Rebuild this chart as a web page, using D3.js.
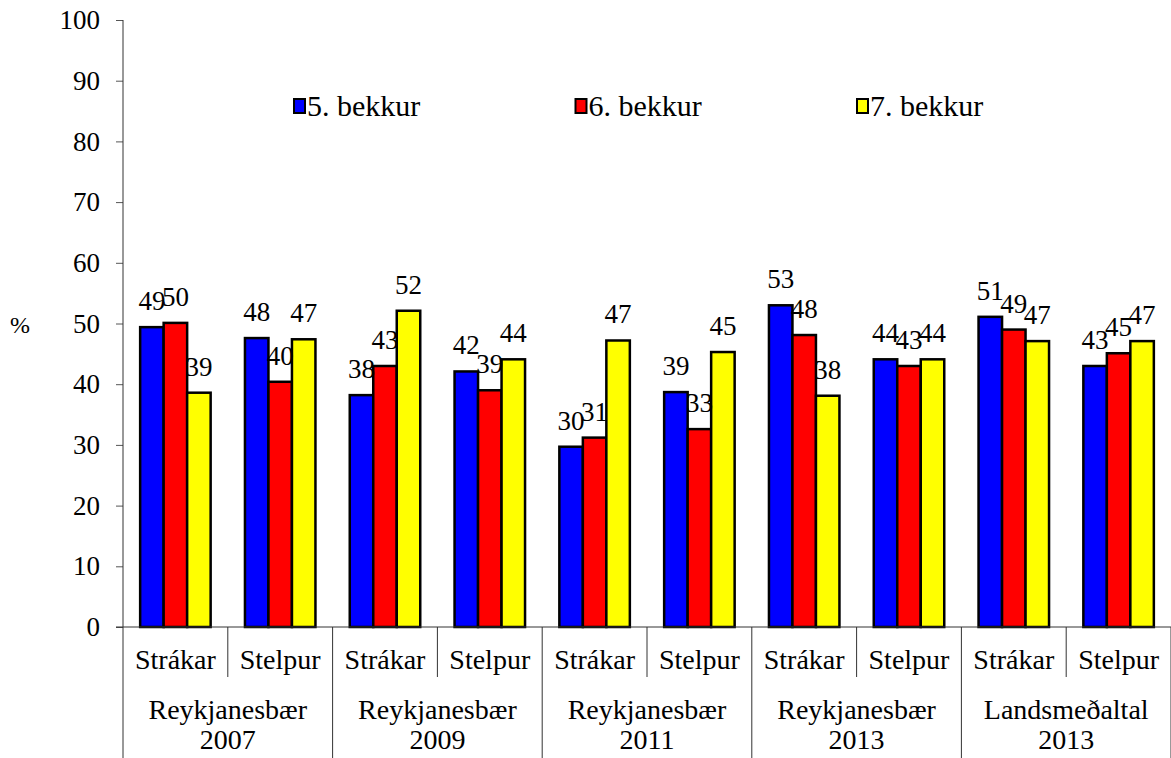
<!DOCTYPE html>
<html>
<head>
<meta charset="utf-8">
<script src="https://cdn.jsdelivr.net/npm/d3@7"></script>
<style>
    body { margin: 0; background: #fff; }
    text { font-family: "Liberation Serif", "Times New Roman", serif; fill: #000; }
</style>
</head>
<body>
<div id="chart"></div>
<script>
// Categories
var categories = ["Strákar", "Stelpur", "Strákar", "Stelpur", "Strákar", "Stelpur", "Strákar", "Stelpur", "Strákar", "Stelpur"];
var groupNames = [["Reykjanesbær", "2007"], ["Reykjanesbær", "2009"], ["Reykjanesbær", "2011"], ["Reykjanesbær", "2013"], ["Landsmeðaltal", "2013"]];

// Series
var seriesNames = ["5. bekkur", "6. bekkur", "7. bekkur"];
var seriesColors = ["#0000ff", "#ff0000", "#ffff00"];
var grade5 = [49.4, 47.6, 38.2, 42.1, 29.7, 38.7, 53.0, 44.1, 51.1, 43.0];
var grade6 = [50.1, 40.4, 43.0, 39.0, 31.2, 32.6, 48.1, 43.0, 49.0, 45.1];
var grade7 = [38.6, 47.4, 52.1, 44.1, 47.2, 45.3, 38.1, 44.1, 47.1, 47.1];

// Y ticks
var yTicks = [0, 10, 20, 30, 40, 50, 60, 70, 80, 90, 100];

var width = 1171, height = 758;
var plotLeft = 123, plotRight = 1171, plotTop = 20, plotBottom = 627;

var svg = d3.select("#chart")
    .append("svg")
    .attr("width", width)
    .attr("height", height);

var x = d3.scaleBand()
    .domain(d3.range(categories.length))
    .range([plotLeft, plotRight])
    .padding(0);

var inner = d3.scaleBand()
    .domain(d3.range(seriesNames.length))
    .range([0, x.bandwidth()])
    .paddingInner(0)
    .paddingOuter(0.73);

var y = d3.scaleLinear()
    .domain([0, 100])
    .range([plotBottom, plotTop]);

// y axis
var yAxis = svg.append("g")
    .attr("transform", "translate(" + plotLeft + ",0)")
    .call(d3.axisLeft(y).tickValues(yTicks).tickSize(7).tickPadding(16).tickFormat(d3.format("d")));
yAxis.select(".domain").remove();
yAxis.selectAll(".tick line").attr("stroke", "#555");
yAxis.selectAll(".tick text")
    .style("font-family", "Liberation Serif")
    .style("font-size", "27px")
    .attr("fill", "#000");

svg.append("line")
    .attr("x1", plotLeft).attr("x2", plotLeft)
    .attr("y1", plotTop).attr("y2", height)
    .attr("stroke", "#333");

svg.append("text")
    .attr("x", 20)
    .attr("y", 333)
    .attr("text-anchor", "middle")
    .style("font-size", "24px")
    .text("%");

// bars
var series = [grade5, grade6, grade7];
series.forEach(function(values, s) {
    svg.append("g")
        .selectAll("rect")
        .data(values)
        .enter()
        .append("rect")
        .attr("x", function(d, i) { return x(i) + inner(s); })
        .attr("y", function(d) { return y(d); })
        .attr("width", inner.bandwidth())
        .attr("height", function(d) { return y(0) - y(d); })
        .attr("fill", seriesColors[s])
        .attr("stroke", "#000")
        .attr("stroke-width", 2.5);
});

// value labels
series.forEach(function(values, s) {
    svg.append("g")
        .selectAll("text")
        .data(values)
        .enter()
        .append("text")
        .attr("x", function(d, i) { return x(i) + inner(s) + inner.bandwidth() / 2; })
        .attr("y", function(d) { return y(d) - 17; })
        .attr("text-anchor", "middle")
        .style("font-size", "27px")
        .text(function(d) { return Math.round(d); });
});

// x axis line
svg.append("line")
    .attr("x1", plotLeft - 7).attr("x2", plotRight)
    .attr("y1", plotBottom).attr("y2", plotBottom)
    .attr("stroke", "#333");

// category separators
d3.range(1, categories.length + 1).forEach(function(i) {
    var xx = i < categories.length ? x(i) : plotRight;
    svg.append("line")
        .attr("x1", xx).attr("x2", xx)
        .attr("y1", plotBottom)
        .attr("y2", i % 2 == 0 ? height : 677)
        .attr("stroke", "#333");
});

svg.append("g")
    .selectAll("text")
    .data(categories)
    .enter()
    .append("text")
    .attr("x", function(d, i) { return x(i) + x.bandwidth() / 2; })
    .attr("y", 669)
    .attr("text-anchor", "middle")
    .style("font-size", "28px")
    .text(function(d) { return d; });

// group labels
var groupText = svg.append("g")
    .selectAll("text")
    .data(groupNames)
    .enter()
    .append("text")
    .attr("text-anchor", "middle")
    .style("font-size", "28px");
groupText.append("tspan")
    .attr("x", function(d, i) { return x(i * 2) + x.bandwidth(); })
    .attr("y", 719)
    .text(function(d) { return d[0]; });
groupText.append("tspan")
    .attr("x", function(d, i) { return x(i * 2) + x.bandwidth(); })
    .attr("y", 749)
    .text(function(d) { return d[1]; });

// legend
var legend = svg.append("g")
    .selectAll("g")
    .data(seriesNames)
    .enter()
    .append("g")
    .attr("transform", function(d, i) { return "translate(" + (294 + i * 281.5) + ",0)"; });
legend.append("rect")
    .attr("x", 0).attr("y", 99)
    .attr("width", 11).attr("height", 14)
    .attr("fill", function(d, i) { return seriesColors[i]; })
    .attr("stroke", "#000")
    .attr("stroke-width", 2);
legend.append("text")
    .attr("x", 13)
    .attr("y", 116)
    .style("font-size", "30px")
    .text(function(d) { return d; });
</script>
</body>
</html>
